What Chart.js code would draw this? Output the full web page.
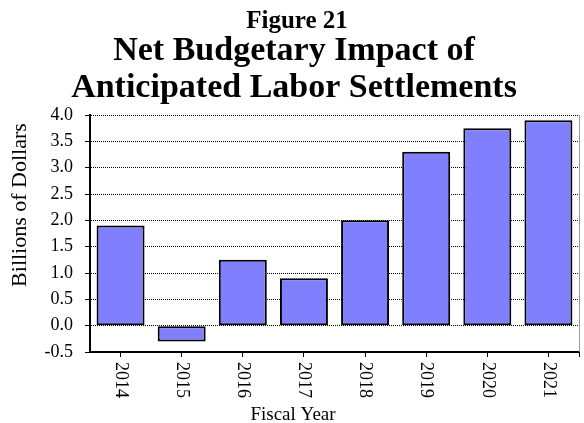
<!DOCTYPE html>
<html><head><meta charset="utf-8">
<script src="https://cdn.jsdelivr.net/npm/chart.js@4"></script>
<style>html,body{margin:0;padding:0;background:#fff}#wrap{width:584px;height:423px}</style>
</head><body><div id="wrap"><canvas id="c" width="584" height="423"></canvas></div>
<script>
const figureLabel = 'Figure 21';
const titleLines = ['Net Budgetary Impact of', 'Anticipated Labor Settlements'];
const categories = ['2014', '2015', '2016', '2017', '2018', '2019', '2020', '2021'];
const values = [1.9, -0.3, 1.25, 0.9, 2.0, 3.3, 3.75, 3.9];
const yMin = -0.5, yMax = 4.0, yStep = 0.5;
const yAxisTitle = 'Billions of Dollars';
const xAxisTitle = 'Fiscal Year';

const SERIF = '"Liberation Serif", "Times New Roman", serif';
Chart.defaults.font.family = SERIF;
Chart.defaults.color = '#000';

const textPlugin = {
  id: 'textPlugin',
  afterDraw(chart) {
    const ctx = chart.ctx;
    const a = chart.chartArea;
    const xs = chart.scales.x;
    ctx.save();
    // right edge
    ctx.strokeStyle = '#9a9a9a';
    ctx.lineWidth = 1;
    ctx.beginPath();
    ctx.moveTo(a.right + 0.5, a.top);
    ctx.lineTo(a.right + 0.5, a.bottom);
    ctx.stroke();
    // far right tick
    ctx.strokeStyle = '#000';
    ctx.beginPath();
    ctx.moveTo(a.right + 0.5, a.bottom);
    ctx.lineTo(a.right + 0.5, a.bottom + 5);
    ctx.stroke();
    // titles
    ctx.fillStyle = '#000';
    ctx.textAlign = 'center';
    ctx.textBaseline = 'alphabetic';
    ctx.font = 'bold 25px ' + SERIF;
    ctx.fillText(figureLabel, 297, 28);
    ctx.font = 'bold 34px ' + SERIF;
    ctx.fillText(titleLines[0], 294, 60);
    ctx.fillText(titleLines[1], 294, 97);
    // x tick labels rotated clockwise
    ctx.font = '18px ' + SERIF;
    categories.forEach((c, i) => {
      const x = xs.getPixelForTick(i);
      ctx.save();
      ctx.translate(x, 362);
      ctx.rotate(Math.PI / 2);
      ctx.textAlign = 'left';
      ctx.textBaseline = 'middle';
      ctx.fillText(c, 0, 0);
      ctx.restore();
    });
    // axis titles
    ctx.font = '19px ' + SERIF;
    ctx.textAlign = 'center';
    ctx.textBaseline = 'alphabetic';
    ctx.fillText(xAxisTitle, 293, 420);
    ctx.save();
    ctx.translate(20, 205);
    ctx.rotate(-Math.PI / 2);
    ctx.font = '22px ' + SERIF;
    ctx.textBaseline = 'middle';
    ctx.fillText(yAxisTitle, 0, 0);
    ctx.restore();
    ctx.restore();
  }
};

new Chart(document.getElementById('c'), {
  type: 'bar',
  data: {
    labels: categories,
    datasets: [{
      data: values,
      backgroundColor: '#8080FF',
      borderColor: '#000',
      borderWidth: 2,
      borderSkipped: false,
      categoryPercentage: 1,
      barPercentage: 0.785
    }]
  },
  options: {
    responsive: false,
    animation: false,
    devicePixelRatio: 1,
    layout: { padding: { top: 115, right: 5, bottom: 0, left: 0 } },
    plugins: { legend: { display: false }, tooltip: { enabled: false }, title: { display: false } },
    scales: {
      x: {
        afterFit(s) { s.height = 71; },
        ticks: { display: false },
        grid: { drawOnChartArea: false, offset: false, tickLength: 5, color: '#000', lineWidth: 1 },
        border: { color: '#000', width: 2 }
      },
      y: {
        min: yMin, max: yMax,
        afterFit(s) { s.width = 90; },
        ticks: { stepSize: yStep, padding: 12, font: { size: 18 }, callback: v => Number(v).toFixed(1) },
        grid: { color: '#000', lineWidth: 1, tickLength: 5, tickBorderDash: [] },
        border: { color: '#000', width: 2, dash: [1, 1] }
      }
    }
  },
  plugins: [textPlugin]
});
</script>
</body></html>
